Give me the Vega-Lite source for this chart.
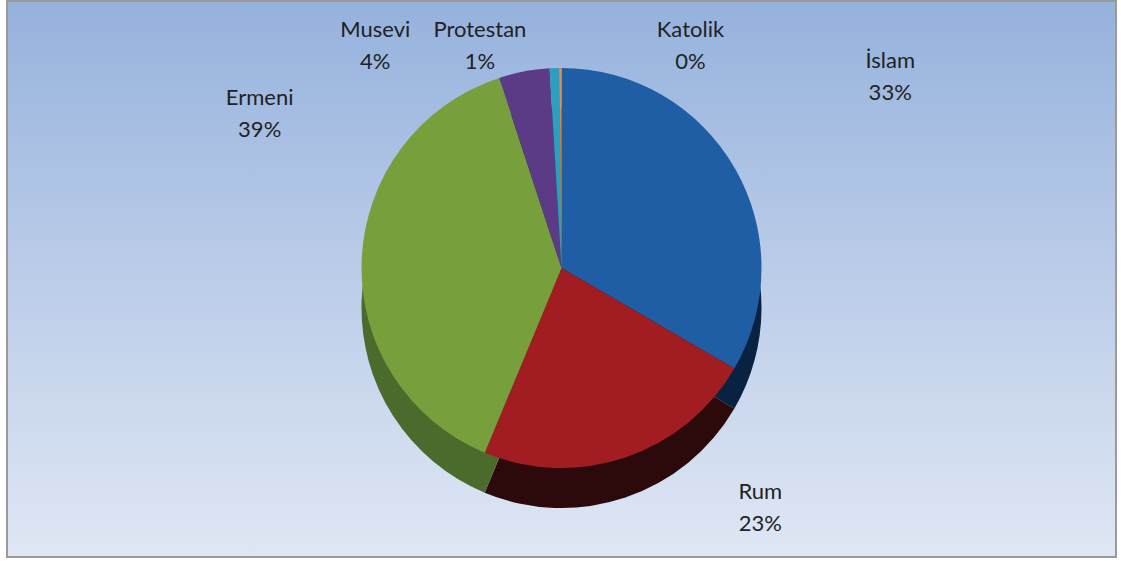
{
  "$schema": "https://vega.github.io/schema/vega-lite/v6.json",
  "width": 1109,
  "height": 556,
  "autosize": {"type": "none"},
  "padding": {"left": 7, "top": 1, "right": 5, "bottom": 4},
  "background": "#ffffff",
  "view": {
    "fill": {"gradient": "linear", "x1": 0, "y1": 0, "x2": 0, "y2": 1,
      "stops": [{"offset": 0, "color": "#95b2dd"}, {"offset": 0.5, "color": "#bccde9"}, {"offset": 1, "color": "#dfe7f4"}]},
    "stroke": "#9a9a9a",
    "strokeWidth": 2
  },
  "data": {"values": [
    {"religion": "İslam", "share": 33.4, "pct": "33%", "rank": 1},
    {"religion": "Rum", "share": 22.9, "pct": "23%", "rank": 2},
    {"religion": "Ermeni", "share": 38.7, "pct": "39%", "rank": 3},
    {"religion": "Musevi", "share": 4.1, "pct": "4%", "rank": 4},
    {"religion": "Protestan", "share": 0.8, "pct": "1%", "rank": 5},
    {"religion": "Katolik", "share": 0.15, "pct": "0%", "rank": 6}
  ]},
  "transform": [{"calculate": "datum.religion + '\\n' + datum.pct", "as": "label"}],
  "encoding": {
    "theta": {"field": "share", "type": "quantitative", "stack": true},
    "order": {"field": "rank", "type": "quantitative"}
  },
  "layer": [
    {
      "mark": {"type": "arc", "radius": 200, "yOffset": 29},
      "encoding": {"color": {"field": "religion", "type": "nominal", "legend": null,
        "scale": {"domain": ["İslam", "Rum", "Ermeni", "Musevi", "Protestan", "Katolik"],
                  "range": ["#0a2242", "#2c090b", "#4b6b2c", "#2e1e46", "#145061", "#7a4010"]}}}
    },
    {
      "mark": {"type": "arc", "radius": 200, "yOffset": -11},
      "encoding": {"color": {"field": "religion", "type": "nominal", "legend": null,
        "scale": {"domain": ["İslam", "Rum", "Ermeni", "Musevi", "Protestan", "Katolik"],
                  "range": ["#1f5ea5", "#a21d21", "#77a03c", "#5b3b86", "#2c9fc0", "#ef8a2f"]}}}
    },
    {
      "mark": {"type": "text", "radius": 250, "yOffset": -11, "dx": 112, "dy": -82, "lineBreak": "\n", "font": "Lato", "fontSize": 22, "lineHeight": 32, "fill": "#222222"},
      "encoding": {"text": {"condition": {"test": "datum.religion === 'İslam'", "field": "label"}, "value": ""}}
    },
    {
      "mark": {"type": "text", "radius": 250, "yOffset": -11, "dx": 119, "dy": -13, "lineBreak": "\n", "font": "Lato", "fontSize": 22, "lineHeight": 32, "fill": "#222222"},
      "encoding": {"text": {"condition": {"test": "datum.religion === 'Rum'", "field": "label"}, "value": ""}}
    },
    {
      "mark": {"type": "text", "radius": 250, "yOffset": -11, "dx": -52, "dy": -160, "lineBreak": "\n", "font": "Lato", "fontSize": 22, "lineHeight": 32, "fill": "#222222"},
      "encoding": {"text": {"condition": {"test": "datum.religion === 'Ermeni'", "field": "label"}, "value": ""}}
    },
    {
      "mark": {"type": "text", "radius": 220, "yOffset": -11, "dx": -145, "dy": -22, "lineBreak": "\n", "font": "Lato", "fontSize": 22, "lineHeight": 32, "fill": "#222222"},
      "encoding": {"text": {"condition": {"test": "datum.religion === 'Musevi'", "field": "label"}, "value": ""}}
    },
    {
      "mark": {"type": "text", "radius": 220, "yOffset": -11, "dx": -74, "dy": -18, "lineBreak": "\n", "font": "Lato", "fontSize": 22, "lineHeight": 32, "fill": "#222222"},
      "encoding": {"text": {"condition": {"test": "datum.religion === 'Protestan'", "field": "label"}, "value": ""}}
    },
    {
      "mark": {"type": "text", "radius": 220, "yOffset": -11, "dx": 130, "dy": -18, "lineBreak": "\n", "font": "Lato", "fontSize": 22, "lineHeight": 32, "fill": "#222222"},
      "encoding": {"text": {"condition": {"test": "datum.religion === 'Katolik'", "field": "label"}, "value": ""}}
    }
  ],
  "resolve": {"scale": {"color": "independent"}}
}
